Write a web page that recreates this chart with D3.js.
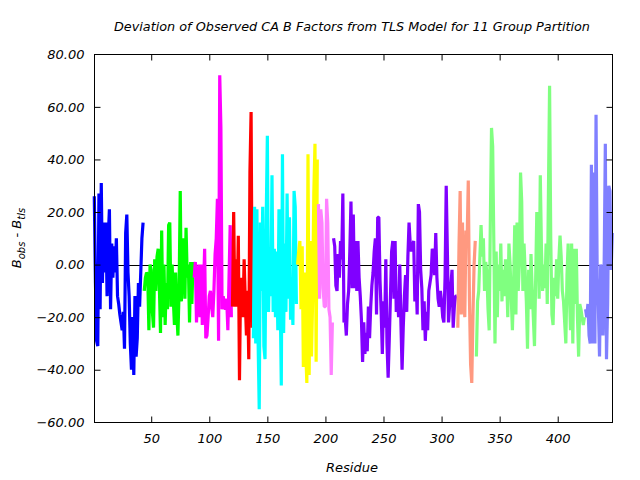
<!DOCTYPE html>
<html><head><meta charset="utf-8">
<script src="https://cdn.jsdelivr.net/npm/d3@7"></script>
<style>
body{margin:0;background:#fff}
svg{display:block}
text{font-family:"DejaVu Sans",sans-serif;font-style:italic;fill:#000}
</style>
</head><body><svg id="chart" width="640" height="480"></svg>
<script>
// ---- data ----
const titleText = "Deviation of Observed CA B Factors from TLS Model for 11 Group Partition";
const xLabel = "Residue";
const xTicks = [50, 100, 150, 200, 250, 300, 350, 400];
const yTicks = [-60, -40, -20, 0, 20, 40, 60, 80];
const xDomain = [1, 447];
const yDomain = [-60, 80];

const groupStarts = [1, 44, 87, 120, 138, 176, 194, 207, 314, 330, 424];
const groupColors = ["#0000ff", "#00ff00", "#ff00ff", "#ff0000", "#00ffff", "#ffff00",
                     "#ff80ff", "#8000ff", "#ff9980", "#80ff80", "#8080ff"];

const group1 = [26,-7,-29,-31,27,-17,31,-7,16,-3,16,-12,10,21,-17,8,-5,7,-3,10,
  -12,-15,-19,-22,-25,-18,-32,12,19,-3,-12,-30,-40,-20,-42,-12,-35,-28,-7,-16,-3,10,16];
const group2 = [-10,-5,-3,-4,-25,0,-2,-18,-24,2,-10,3,6,-8,-26,13,-20,0,-23,-7,
  -17,15,16,-16,0,-13,-23,-3,-18,-27,-10,28,-14,5,10,-13,14,-5,0,-22,1,-15,1];
const group3 = [-5,1,-22,-8,0,-20,0,-23,-10,6,-28,-27,-20,-12,-10,-16,-20,-10,4,10,
  25,-29,72,52,-17,-12,-16,-17,-13,-25,-5,15,-20];
const group4 = [-16,20,-16,2,-16,11,-44,-5,-14,-20,2,-14,-27,-10,-36,35,58,-24];
const group5 = [-28,22,-30,21,-28,-55,16,-10,22,-31,-36,17,49,-18,5,-12,34,-18,6,-20,
  5,-25,21,-10,-46,42,-26,8,-18,27,-13,18,-21,-8,-23,28,22,-15];
const group6 = [0,5,9,-17,7,-39,-3,-32,-45,42,-42,9,-35,-13,27,46,-37,40];
const group7 = [23,-13,21,16,-9,-16,-16,25,16,-17,-20,-42,-22];
const group8 = [10,7,-8,-10,4,-5,9,2,27,-22,-20,-27,-15,-10,5,24,-9,19,-9,9,
  -10,9,-5,-12,-21,-37,-22,-34,-26,-33,-16,-28,-16,
  -8,-3,5,10,-19,18,18,-6,-18,-34,-14,-24,2,-30,-43,-28,-12,5,9,-13,
  9,-18,-11,-20,0,-22,-40,-24,-12,-4,-18,
  3,16,8,5,7,9,-14,-4,-19,23,20,-2,-9,-25,-14,-29,-18,-25,-10,-7,
  -4,6,5,-4,12,-5,-13,-16,-10,-14,-20,-22,-5,30,5,-22,-15,-8,-2,-24,-16,-12,-12];
const group9 = [-24,7,28,-19,16,-12,-20,13,9,32,-13,-38,-45,-20,0,9];
const group10 = [-35,-14,-10,3,15,3,10,-10,1,-3,-17,-25,17,52,45,8,-30,5,-20,0,
  -10,8,-14,-2,-12,2,-4,-20,8,0,-13,-25,-8,15,-19,16,-10,0,35,24,
  -10,8,-3,-14,-32,-2,-17,4,-9,-20,-31,-6,20,15,-13,34,6,-10,0,-9,
  8,-15,27,68,10,-19,-23,-5,-12,2,-13,2,11,3,-10,-14,-22,-30,-4,8,
  -10,-25,8,-30,6,-15,6,-20,-35,-15,-17,-20,-23,-20];
const group11 = [-17,-20,-15,-27,-30,38,-30,35,-30,57,-5,-16,-35,0,-2,-27,0,46,-36,-15,
  30,28,-2,12];

const groups = [group1, group2, group3, group4, group5, group6, group7, group8, group9, group10, group11];

// ---- layout ----
const m = {left: 94.3, right: 612.3, top: 54.3, bottom: 422.3};
const svg = d3.select("#chart");

const x = d3.scaleLinear().domain(xDomain).range([m.left, m.right]);
const y = d3.scaleLinear().domain(yDomain).range([m.bottom, m.top]);

// zero line
svg.append("line")
  .attr("x1", x(xDomain[0])).attr("x2", x(xDomain[1]))
  .attr("y1", Math.round(y(0)) + 0.5).attr("y2", Math.round(y(0)) + 0.5)
  .attr("stroke", "#000").attr("stroke-width", 1);

// series
const line = d3.line().x(d => x(d[0])).y(d => y(d[1]));
groups.forEach((vals, gi) => {
  const pts = vals.map((v, i) => [groupStarts[gi] + i, v]);
  svg.append("path")
    .attr("d", line(pts))
    .attr("fill", "none")
    .attr("stroke", groupColors[gi])
    .attr("stroke-width", 3.2)
    .attr("stroke-linejoin", "bevel")
    .attr("stroke-linecap", "butt");
});

// frame
const L = Math.round(m.left) + 0.5, R = Math.round(m.right) + 0.5;
const T = Math.round(m.top) + 0.5, B = Math.round(m.bottom) + 0.5;
svg.append("rect").attr("x", L).attr("y", T).attr("width", R - L).attr("height", B - T)
  .attr("fill", "none").attr("stroke", "#000").attr("stroke-width", 1);

// axes via d3 axis generators (ticks inward, mirrored)
const tickLen = 6;
const gL = svg.append("g").attr("transform", `translate(${L},0)`)
  .call(d3.axisLeft(y).tickValues(yTicks).tickSize(-tickLen).tickPadding(tickLen + 4)
    .tickFormat(d3.format(".2f")));
const gR = svg.append("g").attr("transform", `translate(${R},0)`)
  .call(d3.axisRight(y).tickValues(yTicks).tickSize(-tickLen).tickFormat(""));
const gB = svg.append("g").attr("transform", `translate(0,${B})`)
  .call(d3.axisBottom(x).tickValues(xTicks).tickSize(-tickLen).tickPadding(tickLen + 5)
    .tickFormat(d3.format("d")));
const gT = svg.append("g").attr("transform", `translate(0,${T})`)
  .call(d3.axisTop(x).tickValues(xTicks).tickSize(-tickLen).tickFormat(""));
[gL, gR, gB, gT].forEach(g => {
  g.select(".domain").remove();
  g.selectAll(".tick line").attr("stroke", "#000").attr("stroke-width", 1);
  g.selectAll(".tick text").attr("font-family", '"DejaVu Sans", sans-serif')
    .attr("font-style", "italic").attr("font-size", 13).attr("fill", "#000");
});
[gL, gR].forEach(g => g.selectAll(".tick").filter(d => d === 80 || d === -60).select("line").remove());

// title
svg.append("text").attr("x", 352).attr("y", 31).attr("text-anchor", "middle")
  .attr("font-size", 12.8).text(titleText);

// x label
svg.append("text").attr("x", 352).attr("y", 472).attr("text-anchor", "middle")
  .attr("font-size", 13).text(xLabel);

// y label with subscripts
const yl = svg.append("text").attr("transform", "translate(21,238) rotate(-90)")
  .attr("text-anchor", "middle").attr("font-size", 13);
yl.append("tspan").text("B");
yl.append("tspan").attr("dy", 4).attr("font-size", 10).text("obs");
yl.append("tspan").attr("dy", -4).text(" - B");
yl.append("tspan").attr("dy", 4).attr("font-size", 10).text("tls");
</script>
</body></html>
